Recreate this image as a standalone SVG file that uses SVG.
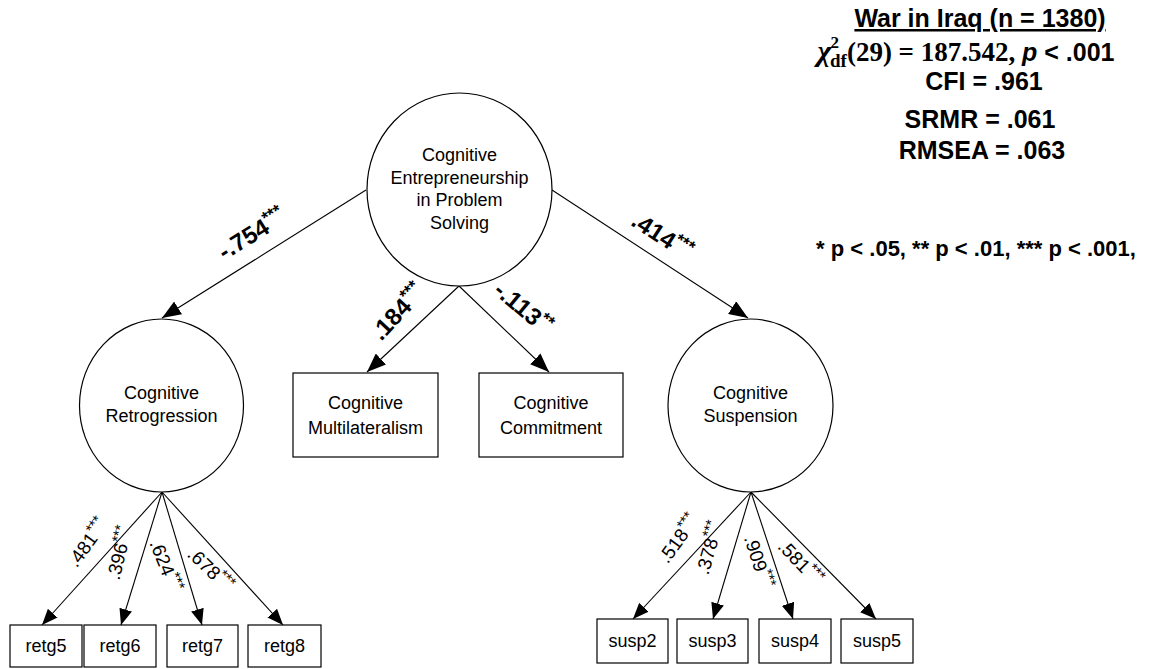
<svg xmlns="http://www.w3.org/2000/svg" width="1154" height="669" viewBox="0 0 1154 669">
  <style>
    .node { fill: #ffffff; stroke: #000000; stroke-width: 1.2; }
    .lbl { font-family: "Liberation Sans", Arial, sans-serif; font-size: 18px; fill: #000; text-anchor: middle; }
    .edge { stroke: #000; stroke-width: 1.1; fill: none; }
    .big { marker-end: url(#headBig); }
    .small { marker-end: url(#headSmall); }
    .coef { font-family: "Liberation Sans", Arial, sans-serif; font-size: 24px; font-weight: bold; fill: #000; text-anchor: middle; }
    .load { font-family: "Liberation Sans", Arial, sans-serif; font-size: 19px; fill: #000; text-anchor: middle; }
    .stat { font-family: "Liberation Sans", Arial, sans-serif; font-size: 25px; font-weight: bold; fill: #000; text-anchor: middle; }
    .serif { font-family: "Liberation Serif", "Times New Roman", serif; font-weight: bold; }
    .note { font-family: "Liberation Sans", Arial, sans-serif; font-size: 22px; font-weight: bold; fill: #000; text-anchor: middle; }
  </style>
  <defs>
    <marker id="headBig" markerUnits="userSpaceOnUse" markerWidth="21" markerHeight="15" refX="19" refY="7.5" orient="auto">
      <path d="M0,0 L19,7.5 L0,15 z" fill="#000"/>
    </marker>
    <marker id="headSmall" markerUnits="userSpaceOnUse" markerWidth="18" markerHeight="13" refX="16" refY="6.5" orient="auto">
      <path d="M0,0 L16,6.5 L0,13 z" fill="#000"/>
    </marker>
  </defs>
  <rect width="1154" height="669" fill="#ffffff"/>

  <!-- connectors -->
  <g id="connectors">
    <line class="edge big" x1="366" y1="190" x2="162" y2="318"/>
    <line class="edge big" x1="552" y1="190" x2="748" y2="318"/>
    <line class="edge big" x1="459" y1="286" x2="367" y2="372"/>
    <line class="edge big" x1="459" y1="286" x2="549" y2="372"/>
    <line class="edge small" x1="162" y1="492" x2="42" y2="625"/>
    <line class="edge small" x1="162" y1="492" x2="121" y2="625"/>
    <line class="edge small" x1="162" y1="492" x2="202" y2="625"/>
    <line class="edge small" x1="162" y1="492" x2="283" y2="625"/>
    <line class="edge small" x1="751" y1="492" x2="633" y2="619"/>
    <line class="edge small" x1="751" y1="492" x2="713" y2="619"/>
    <line class="edge small" x1="751" y1="492" x2="793" y2="619"/>
    <line class="edge small" x1="751" y1="492" x2="876" y2="619"/>
  </g>

  <!-- path coefficients -->
  <g id="coefficients">
    <text class="coef" transform="translate(252,234) rotate(-32)" y="8">-.754<tspan font-size="17" dy="-9">***</tspan></text>
    <text class="coef" transform="translate(662,236) rotate(33)" y="8">.414<tspan font-size="17" dy="-9">***</tspan></text>
    <text class="coef" transform="translate(398,312) rotate(-47)" y="8">.184<tspan font-size="17" dy="-9">***</tspan></text>
    <text class="coef" transform="translate(523,308) rotate(40)" y="8">-.113<tspan font-size="17" dy="-9">**</tspan></text>
    <text class="load" transform="translate(88,543) rotate(-54)" y="6">.481<tspan font-size="15" dy="-7">***</tspan></text>
    <text class="load" transform="translate(120,553) rotate(-76)" y="6">.396<tspan font-size="15" dy="-7">***</tspan></text>
    <text class="load" transform="translate(165,566) rotate(68)" y="6">.624<tspan font-size="15" dy="-7">***</tspan></text>
    <text class="load" transform="translate(210,570) rotate(44)" y="6">.678<tspan font-size="15" dy="-7">***</tspan></text>
    <text class="load" transform="translate(679,539) rotate(-54)" y="6">.518<tspan font-size="15" dy="-7">***</tspan></text>
    <text class="load" transform="translate(710,548) rotate(-74)" y="6">.378<tspan font-size="15" dy="-7">***</tspan></text>
    <text class="load" transform="translate(758,562) rotate(72)" y="6">.909<tspan font-size="15" dy="-7">***</tspan></text>
    <text class="load" transform="translate(800,563) rotate(46)" y="6">.581<tspan font-size="15" dy="-7">***</tspan></text>
  </g>

  <!-- latent factors -->
  <g id="entrepreneurship">
    <ellipse class="node" cx="459.5" cy="189.5" rx="92.5" ry="96.5"/>
    <text class="lbl" x="459.5" y="161">Cognitive</text>
    <text class="lbl" x="459.5" y="184">Entrepreneurship</text>
    <text class="lbl" x="459.5" y="206">in Problem</text>
    <text class="lbl" x="459.5" y="229">Solving</text>
  </g>
  <g id="retrogression">
    <ellipse class="node" cx="161.5" cy="405.5" rx="82" ry="86.5"/>
    <text class="lbl" x="161.5" y="399">Cognitive</text>
    <text class="lbl" x="161.5" y="422">Retrogression</text>
  </g>
  <g id="suspension">
    <ellipse class="node" cx="750.5" cy="405.5" rx="82.5" ry="86.5"/>
    <text class="lbl" x="750.5" y="399">Cognitive</text>
    <text class="lbl" x="750.5" y="422">Suspension</text>
  </g>

  <!-- observed variables -->
  <g id="multilateralism">
    <rect class="node" x="293" y="373" width="145" height="84"/>
    <text class="lbl" x="365.5" y="409">Cognitive</text>
    <text class="lbl" x="365.5" y="434">Multilateralism</text>
  </g>
  <g id="commitment">
    <rect class="node" x="479" y="373" width="144" height="84"/>
    <text class="lbl" x="551" y="409">Cognitive</text>
    <text class="lbl" x="551" y="434">Commitment</text>
  </g>
  <g id="retg5"><rect class="node" x="10" y="625" width="72" height="42"/><text class="lbl" x="46" y="652">retg5</text></g>
  <g id="retg6"><rect class="node" x="84" y="625" width="72" height="42"/><text class="lbl" x="120" y="652">retg6</text></g>
  <g id="retg7"><rect class="node" x="167" y="625" width="71" height="42"/><text class="lbl" x="202.5" y="652">retg7</text></g>
  <g id="retg8"><rect class="node" x="248" y="625" width="73" height="42"/><text class="lbl" x="284.5" y="652">retg8</text></g>
  <g id="susp2"><rect class="node" x="597" y="619" width="71" height="44"/><text class="lbl" x="632.5" y="647">susp2</text></g>
  <g id="susp3"><rect class="node" x="677" y="619" width="71" height="44"/><text class="lbl" x="712.5" y="647">susp3</text></g>
  <g id="susp4"><rect class="node" x="759" y="619" width="72" height="44"/><text class="lbl" x="795" y="647">susp4</text></g>
  <g id="susp5"><rect class="node" x="841" y="619" width="72" height="44"/><text class="lbl" x="877" y="647">susp5</text></g>

  <!-- fit statistics -->
  <g id="fit">
    <text class="stat" x="980" y="27" text-decoration="underline">War in Iraq (n = 1380)</text>
    <text class="stat" x="966" y="61" font-size="26"><tspan class="serif" font-size="30" font-style="italic">χ</tspan><tspan class="serif" font-size="17" dx="-1" dy="-13">2</tspan><tspan class="serif" font-size="19" dx="-9" dy="19">df</tspan><tspan class="serif" font-size="27" dy="-6">(29) = 187.542, </tspan><tspan font-style="italic">p</tspan> &lt; .001</text>
    <text class="stat" x="984" y="90">CFI = .961</text>
    <text class="stat" x="980" y="128" font-size="28">SRMR = .061</text>
    <text class="stat" x="982" y="159" font-size="28">RMSEA = .063</text>
    <text class="note" x="976" y="256">* p &lt; .05, ** p &lt; .01, *** p &lt; .001,</text>
  </g>
</svg>
